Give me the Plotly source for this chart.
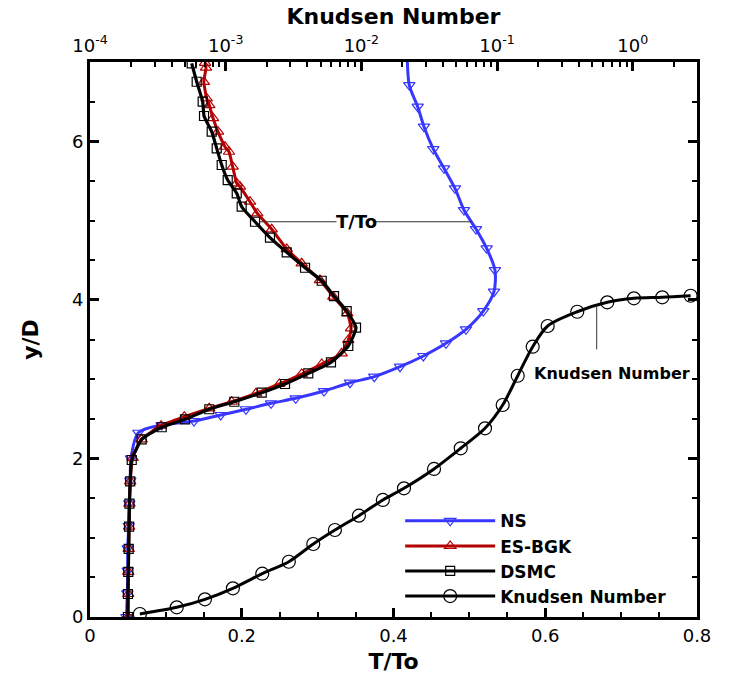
import plotly.graph_objects as go

# ---------------- data ----------------
# Navier-Stokes temperature profile
ns_T = [0.048, 0.0492, 0.0497, 0.0497, 0.0510, 0.0518, 0.0531, 0.0540, 0.0637, 0.0945,
        0.1371, 0.1723, 0.2056, 0.2386, 0.2711, 0.3084, 0.3427, 0.3747, 0.4086, 0.4393,
        0.4692, 0.4955, 0.5183, 0.5324, 0.5337, 0.5228, 0.5087, 0.4929, 0.4810, 0.4666,
        0.4525, 0.4402, 0.4319, 0.4208, 0.4180]
ns_y = [0.0, 0.299, 0.584, 0.866, 1.148, 1.434, 1.719, 2.002, 2.324, 2.421,
        2.472, 2.548, 2.620, 2.695, 2.758, 2.850, 2.955, 3.031, 3.157, 3.292,
        3.452, 3.628, 3.859, 4.103, 4.376, 4.650, 4.893, 5.133, 5.407, 5.659,
        5.902, 6.184, 6.436, 6.709, 7.1]

# ES-BGK temperature profile
es_T = [0.050, 0.0505, 0.0505, 0.051, 0.0515, 0.052, 0.053, 0.0562, 0.0681, 0.0936,
        0.1243, 0.1572, 0.1868, 0.2188, 0.2495, 0.2790, 0.3054, 0.3317, 0.3404, 0.3440,
        0.3391, 0.3207, 0.3031, 0.2790, 0.2593, 0.2395, 0.2205, 0.2109, 0.1977, 0.1934,
        0.1880, 0.1832, 0.1779, 0.1687, 0.1621, 0.1572, 0.1538, 0.1500, 0.1529, 0.1516]
es_y = [0.0, 0.29, 0.57, 0.86, 1.14, 1.43, 1.71, 2.007, 2.241, 2.413,
        2.526, 2.632, 2.715, 2.821, 2.939, 3.065, 3.191, 3.326, 3.494, 3.640,
        3.830, 4.040, 4.250, 4.461, 4.641, 4.890, 5.091, 5.238, 5.427, 5.470,
        5.680, 5.868, 5.931, 6.121, 6.293, 6.457, 6.541, 6.750, 6.928, 6.990]

# DSMC temperature profile
ds_T = [0.050, 0.0500, 0.0505, 0.051, 0.0515, 0.052, 0.053, 0.055, 0.0681, 0.0945,
        0.1252, 0.1572, 0.1902, 0.2263, 0.2570, 0.2877, 0.3176, 0.3404, 0.3506, 0.3383,
        0.3216, 0.3054, 0.2834, 0.2593, 0.2372, 0.2175, 0.1999, 0.1934, 0.1815, 0.1736,
        0.1670, 0.1604, 0.1503, 0.1485, 0.1406, 0.1340]
ds_y = [0.0, 0.29, 0.57, 0.86, 1.14, 1.43, 1.71, 1.98, 2.241, 2.393,
        2.493, 2.620, 2.715, 2.829, 2.939, 3.073, 3.212, 3.418, 3.649, 3.859,
        4.048, 4.241, 4.405, 4.600, 4.786, 4.985, 5.175, 5.344, 5.511, 5.701,
        5.911, 6.121, 6.319, 6.499, 6.751, 6.983]

# Knudsen number profile (top log axis)
kn_val = [2.33e-4, 4.36e-4, 7.03e-4, 1.13e-3, 1.86e-3, 2.92e-3, 4.42e-3, 6.38e-3, 9.59e-3,
          1.44e-2, 2.06e-2, 3.43e-2, 5.40e-2, 8.15e-2, 0.110, 0.142, 0.183, 0.236, 0.390,
          0.649, 1.02, 1.65, 2.67]
kn_y = [0.038, 0.122, 0.223, 0.362, 0.546, 0.697, 0.921, 1.097, 1.278,
        1.476, 1.623, 1.867, 2.128, 2.380, 2.674, 3.043, 3.409, 3.670, 3.850,
        3.969, 4.019, 4.032, 4.052]

x_ticks = [0, 0.2, 0.4, 0.6, 0.8]
x_ticklabels = ["0", "0.2", "0.4", "0.6", "0.8"]
y_ticks = [0, 2, 4, 6]
kn_ticks = [1e-4, 1e-3, 1e-2, 1e-1, 1.0]
kn_ticklabels = ["10<sup>-4</sup>", "10<sup>-3</sup>", "10<sup>-2</sup>", "10<sup>-1</sup>", "10<sup>0</sup>"]
kn_minor = [k * 10.0 ** n for n in range(-4, 1) for k in range(2, 10)]

# ---------------- styling ----------------
BLUE = "#3737ff"
RED = "#b40000"
BLACK = "#000000"
FAM = "DejaVu Sans, Arial, sans-serif"
TICKFONT = dict(family=FAM, size=18, color="black")

fig = go.Figure()

# Knudsen number
fig.add_trace(go.Scatter(
    x=kn_val, y=kn_y, xaxis="x2", yaxis="y", mode="lines+markers",
    line=dict(color=BLACK, width=3, shape="spline", smoothing=0.8),
    marker=dict(symbol="circle-open", size=13, color=BLACK, line=dict(width=1.2)),
    showlegend=False))

# NS
fig.add_trace(go.Scatter(
    x=ns_T, y=ns_y, mode="lines+markers",
    line=dict(color=BLUE, width=3, shape="spline", smoothing=0.8),
    marker=dict(symbol="triangle-down-open", size=10, color=BLUE, line=dict(width=1.2)),
    showlegend=False))

# ES-BGK
fig.add_trace(go.Scatter(
    x=es_T, y=es_y, mode="lines+markers",
    line=dict(color=RED, width=3, shape="spline", smoothing=0.5),
    marker=dict(symbol="triangle-up-open", size=10, color=RED, line=dict(width=1.2)),
    showlegend=False))

# DSMC
fig.add_trace(go.Scatter(
    x=ds_T, y=ds_y, mode="lines+markers",
    line=dict(color=BLACK, width=3.2, shape="spline", smoothing=0.5),
    marker=dict(symbol="square-open", size=9, color=BLACK, line=dict(width=1.2)),
    showlegend=False))

# legend entries
legend_items = [
    ("NS", BLUE, "triangle-down-open", 10),
    ("ES-BGK", RED, "triangle-up-open", 10),
    ("DSMC", BLACK, "square-open", 9),
    ("Knudsen Number", BLACK, "circle-open", 13),
]
for name, col, sym, sz in legend_items:
    fig.add_trace(go.Scatter(
        x=[None], y=[None], mode="lines+markers", name="<b>%s</b>" % name,
        line=dict(color=col, width=3),
        marker=dict(symbol=sym, size=sz, color=col, line=dict(width=1.2)),
        showlegend=True))

fig.update_layout(
    width=730, height=685,
    margin=dict(l=90, r=33, t=62, b=68),
    paper_bgcolor="white", plot_bgcolor="white",
    xaxis=dict(
        range=[0, 0.8], tickvals=x_ticks, ticktext=x_ticklabels,
        ticks="inside", ticklen=9, tickwidth=2.5, tickcolor="black",
        showline=True, linecolor="black", linewidth=3, mirror=False,
        showgrid=False, zeroline=False, tickfont=TICKFONT,
        minor=dict(dtick=0.05, tick0=0, ticks="inside", ticklen=5, tickwidth=1.5, tickcolor="black"),
        title=dict(text="<b>T/To</b>", font=dict(family=FAM, size=22, color="black"), standoff=10),
    ),
    xaxis2=dict(
        type="log", overlaying="x", side="top", anchor="y",
        range=[-4, 0.4735], tickvals=kn_ticks, ticktext=kn_ticklabels,
        ticks="inside", ticklen=9, tickwidth=2.5, tickcolor="black",
        showline=True, linecolor="black", linewidth=3,
        showgrid=False, zeroline=False, tickfont=TICKFONT,
        minor=dict(tickmode="array", tickvals=kn_minor, ticks="inside", ticklen=5, tickwidth=1.5, tickcolor="black"),
        title=dict(text="<b>Knudsen Number</b>", font=dict(family=FAM, size=22, color="black"), standoff=2),
    ),
    yaxis=dict(
        range=[0, 7], tickvals=y_ticks,
        ticks="inside", ticklen=9, tickwidth=2.5, tickcolor="black",
        showline=True, linecolor="black", linewidth=3, mirror="ticks",
        showgrid=False, zeroline=False, tickfont=TICKFONT,
        minor=dict(dtick=0.5, tick0=0, ticks="inside", ticklen=5, tickwidth=1.5, tickcolor="black"),
        title=dict(text="<b>y/D</b>", font=dict(family=FAM, size=22, color="black"), standoff=28),
    ),
    legend=dict(
        x=0.511, y=0.205, xanchor="left", yanchor="top",
        bgcolor="rgba(0,0,0,0)", borderwidth=0,
        font=dict(family=FAM, size=17, color="black"),
        itemwidth=90, tracegroupgap=0,
    ),
)

# labels with leader lines
fig.add_annotation(x=0.351, y=4.985, xref="x", yref="y", text="<b>T/To</b>",
                   showarrow=False, font=dict(family=FAM, size=18, color="black"))
fig.add_shape(type="line", xref="x", yref="y", x0=0.224, y0=4.985, x1=0.325, y1=4.985,
              line=dict(color="#333333", width=1))
fig.add_shape(type="line", xref="x", yref="y", x0=0.377, y0=4.985, x1=0.503, y1=4.985,
              line=dict(color="#333333", width=1))
fig.add_annotation(x=0.6876, y=3.073, xref="x", yref="y", text="<b>Knudsen Number</b>",
                   showarrow=False, font=dict(family=FAM, size=16, color="black"))
fig.add_shape(type="line", xref="x", yref="y", x0=0.6678, y0=3.935, x1=0.6678, y1=3.376,
              line=dict(color="#333333", width=1))

fig.write_html("out.html")
